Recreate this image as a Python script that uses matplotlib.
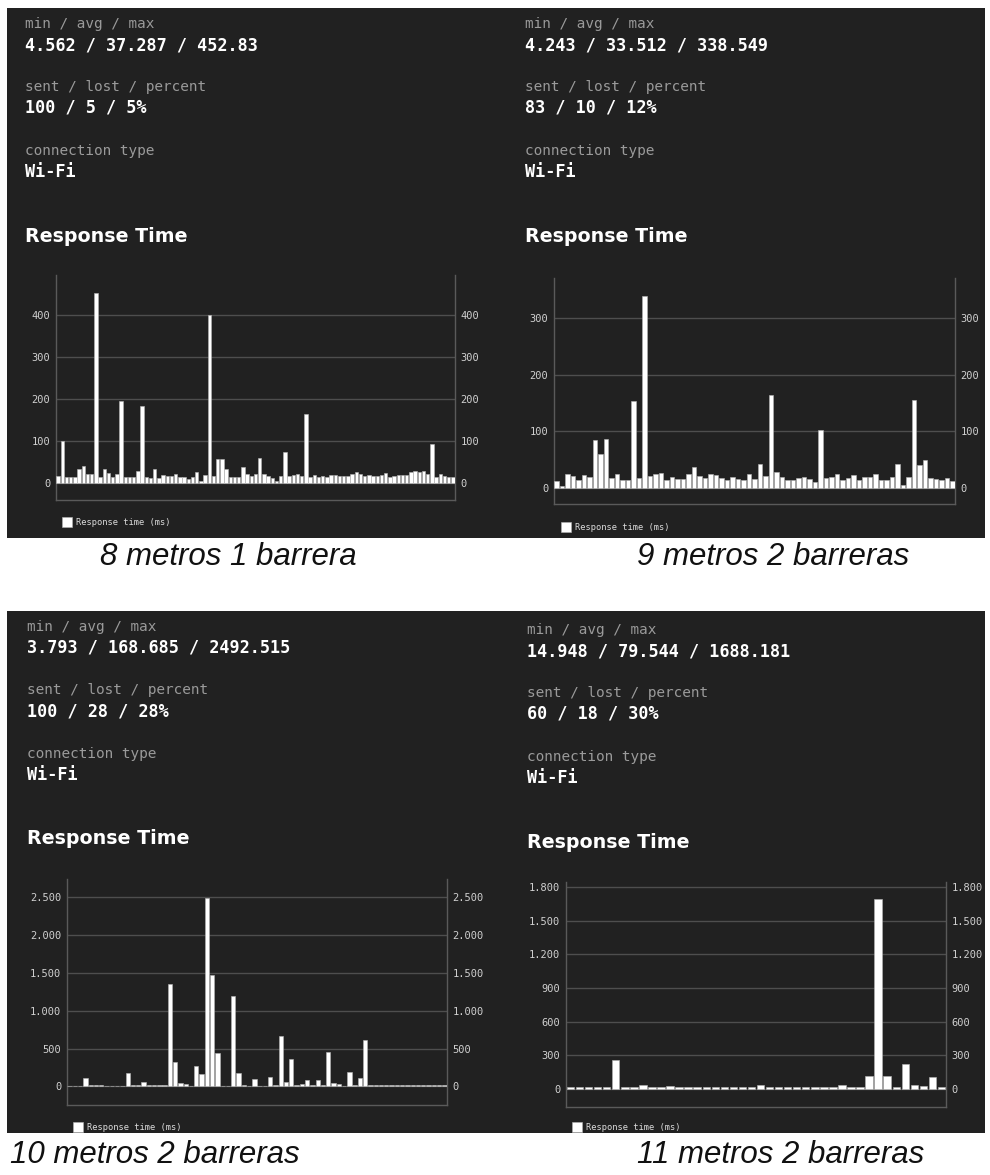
import matplotlib
matplotlib.use("Agg")
import matplotlib.pyplot as plt
from matplotlib.patches import Rectangle
from matplotlib.ticker import FuncFormatter

# ---- data -------------------------------------------------------------
rt_8m_1b = [17, 100, 14, 14, 14, 34, 40, 23, 21, 452.83, 14, 33, 25, 14, 22, 196,
            14, 14, 14, 29, 183, 14, 12, 33, 13, 20, 16, 18, 21, 14, 14, 11, 14, 27,
            5, 19, 400, 18, 58, 57, 33, 15, 15, 15, 38, 22, 16, 23, 59, 23, 16, 12,
            4.562, 16, 74, 18, 20, 21, 16, 164, 14, 19, 15, 18, 15, 20, 20, 16, 18,
            16, 21, 26, 22, 16, 19, 16, 18, 20, 25, 14, 16, 19, 19, 20, 26, 29, 27,
            29, 21, 94, 15, 21, 16, 14, 15]
rt_9m_2b = [13, 4.243, 25, 22, 15, 23, 19, 84, 60, 87, 18, 24, 15, 15, 154, 18,
            338.549, 21, 25, 26, 15, 20, 16, 16, 25, 38, 22, 18, 24, 23, 18, 14, 20,
            16, 15, 25, 16, 42, 21, 164, 29, 19, 15, 15, 18, 19, 16, 10, 103, 18, 19,
            24, 15, 18, 23, 15, 20, 20, 25, 15, 15, 19, 43, 5, 19, 155, 40, 49, 17,
            16, 14, 18, 12]
rt_10m_2b = [3.793, 4, 5, 115, 18, 18, 25, 4, 4, 8, 5, 175, 25, 18, 60, 15, 15, 15,
             25, 1350, 327, 50, 30, 10, 275, 160, 2492.515, 1470, 442, 4, 8, 1200,
             180, 20, 10, 100, 10, 10, 120, 18, 668, 62, 363, 20, 30, 88, 18, 88, 15,
             455, 48, 30, 5, 186, 15, 115, 615, 25, 15, 15, 15, 14, 14, 14, 14, 14,
             14, 18, 18, 14, 14, 14]
rt_11m_2b = [14.948, 15, 15, 20, 15, 255, 18, 20, 38, 18, 15, 27, 18, 18, 18, 15,
             18, 18, 15, 21, 18, 33, 21, 15, 15, 15, 15, 15, 15, 21, 33, 18, 15, 113,
             1688.181, 116, 15, 222, 40, 30, 107, 17]

stats_minavgmax = ["4.562 / 37.287 / 452.83", "4.243 / 33.512 / 338.549",
                   "3.793 / 168.685 / 2492.515", "14.948 / 79.544 / 1688.181"]
stats_sentlost = ["100 / 5 / 5%", "83 / 10 / 12%", "100 / 28 / 28%", "60 / 18 / 30%"]
conn_types = ["Wi-Fi", "Wi-Fi", "Wi-Fi", "Wi-Fi"]
captions = ["8 metros 1 barrera", "9 metros 2 barreras",
            "10 metros 2 barreras", "11 metros 2 barreras"]
series = [rt_8m_1b, rt_9m_2b, rt_10m_2b, rt_11m_2b]
tick_steps = [100, 100, 500, 300]
tick_tops = [400, 300, 2500, 1800]
y_limits = [(-40, 496), (-28, 370), (-245, 2738), (-160, 1844)]

# ---- layout (pixels) --------------------------------------------------
W, H = 990, 1175
BG = "#212121"
GRID = "#4e4e4e"

fig = plt.figure(figsize=(W / 100, H / 100), dpi=100, facecolor="white")


def fx(x):
    return x / W


def fy(y):
    return 1 - y / H


# dark screenshot panels
for (x0, y0, x1, y1) in [(7, 8, 985, 538), (7, 611, 985, 1133)]:
    fig.add_artist(Rectangle((fx(x0), fy(y1)), fx(x1 - x0), (y1 - y0) / H,
                             transform=fig.transFigure, facecolor=BG,
                             edgecolor="none", zorder=-1))

axes_px = [(56, 275, 455, 500), (554, 278, 955, 504),
           (67, 879, 447, 1105), (566, 882, 946, 1107)]
text_x = [25, 525, 27, 527]
text_top = [24, 24, 627, 630]
legend_pos = [(62, 522), (561, 527), (73, 1127), (572, 1127)]
caption_pos = [(228, 557), (773, 557), (155, 1155), (781, 1155)]

MONO = "DejaVu Sans Mono"


def fmt_thousands(v, _pos):
    return f"{int(round(v)):,}".replace(",", ".")


for i in range(4):
    tx, ty = text_x[i], text_top[i]
    fig.text(fx(tx), fy(ty), "min / avg / max", family=MONO, fontsize=10.4,
             color="#9a9a9a", va="center", ha="left")
    fig.text(fx(tx), fy(ty + 21), stats_minavgmax[i], family=MONO, fontsize=12.1,
             weight="bold", color="white", va="center", ha="left")
    fig.text(fx(tx), fy(ty + 63), "sent / lost / percent", family=MONO, fontsize=10.4,
             color="#9a9a9a", va="center", ha="left")
    fig.text(fx(tx), fy(ty + 84), stats_sentlost[i], family=MONO, fontsize=12.1,
             weight="bold", color="white", va="center", ha="left")
    fig.text(fx(tx), fy(ty + 127), "connection type", family=MONO, fontsize=10.4,
             color="#9a9a9a", va="center", ha="left")
    fig.text(fx(tx), fy(ty + 148), conn_types[i], family=MONO, fontsize=12.1,
             weight="bold", color="white", va="center", ha="left")
    fig.text(fx(tx), fy(ty + 212), "Response Time", family="DejaVu Sans",
             fontsize=13.7, weight="bold", color="white", va="center", ha="left")

    x0, y0, x1, y1 = axes_px[i]
    ax = fig.add_axes([fx(x0), fy(y1), fx(x1 - x0), (y1 - y0) / H])
    ax.set_facecolor("none")
    vals = series[i]
    xs = list(range(len(vals)))
    ax.bar(xs, vals, width=0.82, color="white", edgecolor="#b5b5b5",
           linewidth=0.4, zorder=3, label="Response time (ms)")
    ax.set_xlim(-0.5, len(vals) - 0.5)
    ax.set_ylim(*y_limits[i])
    ax.set_yticks(list(range(0, tick_tops[i] + 1, tick_steps[i])))
    ax.yaxis.set_major_formatter(FuncFormatter(fmt_thousands))
    ax.yaxis.grid(True, color=GRID, linewidth=1, zorder=0)
    ax.set_axisbelow(True)
    ax.set_xticks([])
    ax.tick_params(axis="y", length=0, labelleft=True, labelright=True,
                   labelsize=7.5, labelcolor="#d0d0d0", pad=4)
    for lab in ax.get_yticklabels():
        lab.set_family(MONO)
    for side in ("left", "right", "bottom"):
        ax.spines[side].set_color("#5a5a5a")
        ax.spines[side].set_linewidth(1)
    ax.spines["top"].set_visible(False)

    lx, ly = legend_pos[i]
    leg = ax.legend(loc="center left", bbox_to_anchor=(fx(lx), fy(ly)),
                    bbox_transform=fig.transFigure, frameon=False, borderpad=0,
                    borderaxespad=0, handlelength=1.1, handleheight=1.3,
                    handletextpad=0.5, prop={"family": MONO, "size": 6.3})
    for t in leg.get_texts():
        t.set_color("#dcdcdc")

    cx, cy = caption_pos[i]
    fig.text(fx(cx), fy(cy), captions[i], family="Liberation Sans", style="italic",
             fontsize=22.5, color="#111111", ha="center", va="center")

fig.savefig("out.png", dpi=100, facecolor="white")
